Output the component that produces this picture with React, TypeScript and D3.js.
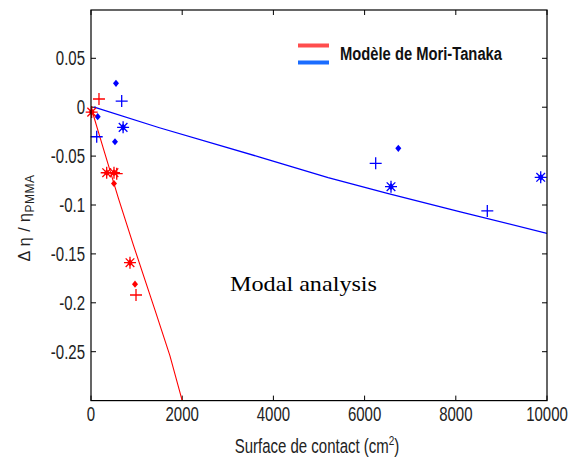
import React from "react"
import * as d3 from "d3"

// axis ticks
const xTicks = [0, 2000, 4000, 6000, 8000, 10000]
const yTicks = [0.05, 0, -0.05, -0.1, -0.15, -0.2, -0.25]
const yTickLabels = ["0.05", "0", "-0.05", "-0.1", "-0.15", "-0.2", "-0.25"]

// Mori-Tanaka model curves
const redModelX = [0, 270, 600, 930, 1400, 1730, 2000]
const redModelY = [0, -0.042, -0.093, -0.141, -0.207, -0.254, -0.3]
const blueModelX = [70, 1500, 3700, 5200, 6500, 8100, 10000]
const blueModelY = [0, -0.021, -0.051, -0.072, -0.088, -0.107, -0.129]

// measured points, blue series
const blueDotX = [548, 147, 526, 6739]
const blueDotY = [0.0244, -0.0097, -0.0353, -0.042]
const bluePlusX = [673, 125, 6243, 8691]
const bluePlusY = [0.0063, -0.0302, -0.0574, -0.1061]
const blueStarX = [704, 6579, 9862]
const blueStarY = [-0.0206, -0.0813, -0.0717]

// measured points, red series
const redDotX = [504, 965]
const redDotY = [-0.078, -0.181]
const redPlusX = [175, 564, 987]
const redPlusY = [0.0084, -0.068, -0.192]
const redStarX = [15, 344, 504, 855]
const redStarY = [-0.005, -0.067, -0.067, -0.159]

const W = 569
const H = 468
const m = { left: 91, right: 547, top: 10, bottom: 400.6 }

const x = d3.scaleLinear().domain([0, 10000]).range([m.left, m.right])
const y = d3.scaleLinear().domain([-0.3, 0.0994]).range([m.bottom, m.top])

const BLUE = "#0000ff"
const RED = "#ff0000"
const tickFont = "'Liberation Sans', Arial, sans-serif"

const zip = (xs: number[], ys: number[]) => xs.map((v, i) => [v, ys[i]] as [number, number])

const line = d3
  .line<[number, number]>()
  .x((d) => x(d[0]))
  .y((d) => y(d[1]))

const Dot = ({ cx, cy, color }: { cx: number; cy: number; color: string }) => (
  <path d={`M${cx},${cy - 3.6}L${cx + 3},${cy}L${cx},${cy + 3.6}L${cx - 3},${cy}Z`} fill={color} />
)

const Plus = ({ cx, cy, color }: { cx: number; cy: number; color: string }) => (
  <path d={`M${cx - 6},${cy}H${cx + 6}M${cx},${cy - 6}V${cy + 6}`} stroke={color} strokeWidth={1.3} fill="none" />
)

const Star = ({ cx, cy, color }: { cx: number; cy: number; color: string }) => {
  const r = 6
  const d = r * 0.72
  return (
    <path
      d={`M${cx - r},${cy}H${cx + r}M${cx},${cy - r}V${cy + r}M${cx - d},${cy - d}L${cx + d},${cy + d}M${cx - d},${cy + d}L${cx + d},${cy - d}`}
      stroke={color}
      strokeWidth={1.3}
      fill="none"
    />
  )
}

// text in the picture is stretched vertically
const Stretched = ({ tx, ty, sy, children, ...rest }: any) => (
  <g transform={`translate(${tx},${ty}) scale(1,${sy})`}>
    <text {...rest}>{children}</text>
  </g>
)

export default function App() {
  return (
    <svg width={W} height={H} style={{ position: "absolute", left: 0, top: 0, background: "#fff" }}>
      <defs>
        <clipPath id="plot">
          <rect x={m.left} y={m.top} width={m.right - m.left} height={m.bottom - m.top} />
        </clipPath>
      </defs>
      <rect width={W} height={H} fill="#fff" />

      {/* ticks, inside, on all four sides */}
      {xTicks.map((t) => (
        <g key={"xt" + t}>
          <line x1={x(t)} x2={x(t)} y1={m.bottom} y2={m.bottom - 5} stroke="#000" />
          <line x1={x(t)} x2={x(t)} y1={m.top} y2={m.top + 5} stroke="#000" />
          <Stretched tx={x(t)} ty={421} sy={1.35} textAnchor="middle" fontFamily={tickFont} fontSize={15} fill="#222">
            {t}
          </Stretched>
        </g>
      ))}
      {yTicks.map((t, i) => (
        <g key={"yt" + t}>
          <line x1={m.left} x2={m.left + 5} y1={y(t)} y2={y(t)} stroke="#000" />
          <line x1={m.right} x2={m.right - 5} y1={y(t)} y2={y(t)} stroke="#000" />
          <Stretched tx={m.left - 6} ty={y(t) + 7} sy={1.35} textAnchor="end" fontFamily={tickFont} fontSize={15} fill="#222">
            {yTickLabels[i]}
          </Stretched>
        </g>
      ))}

      <g clipPath="url(#plot)">
        <path d={line(zip(blueModelX, blueModelY)) || ""} stroke={BLUE} strokeWidth={1.3} fill="none" />
        <path d={line(zip(redModelX, redModelY)) || ""} stroke={RED} strokeWidth={1.1} fill="none" />
      </g>

      {zip(blueDotX, blueDotY).map((p, i) => <Dot key={"bd" + i} cx={x(p[0])} cy={y(p[1])} color={BLUE} />)}
      {zip(bluePlusX, bluePlusY).map((p, i) => <Plus key={"bp" + i} cx={x(p[0])} cy={y(p[1])} color={BLUE} />)}
      {zip(blueStarX, blueStarY).map((p, i) => (
        <g key={"bs" + i}>
          <Star cx={x(p[0])} cy={y(p[1])} color={BLUE} />
          <Dot cx={x(p[0])} cy={y(p[1])} color={BLUE} />
        </g>
      ))}
      {zip(redDotX, redDotY).map((p, i) => <Dot key={"rd" + i} cx={x(p[0])} cy={y(p[1])} color={RED} />)}
      {zip(redPlusX, redPlusY).map((p, i) => <Plus key={"rp" + i} cx={x(p[0])} cy={y(p[1])} color={RED} />)}
      {zip(redStarX, redStarY).map((p, i) => (
        <g key={"rs" + i}>
          <Star cx={x(p[0])} cy={y(p[1])} color={RED} />
          <Dot cx={x(p[0])} cy={y(p[1])} color={RED} />
        </g>
      ))}

      {/* frame */}
      <rect x={m.left} y={m.top} width={m.right - m.left} height={m.bottom - m.top} fill="none" stroke="#000" strokeWidth={1.2} />

      {/* legend */}
      <line x1={298} x2={329} y1={45.5} y2={45.5} stroke="#ff4d4d" strokeWidth={4} />
      <line x1={298} x2={329} y1={62.5} y2={62.5} stroke="#1a6cff" strokeWidth={4} />
      <Stretched tx={340} ty={60} sy={1.3} fontFamily={tickFont} fontWeight="bold" fontSize={13.5} fill="#111" textLength={162} lengthAdjust="spacingAndGlyphs">
        Modèle de Mori-Tanaka
      </Stretched>

      <text x={230} y={291} fontFamily="'Liberation Serif', 'Times New Roman', serif" fontSize={22} fill="#000" textLength={147} lengthAdjust="spacingAndGlyphs">
        Modal analysis
      </text>

      {/* axis titles */}
      <Stretched tx={317} ty={453} sy={1.35} textAnchor="middle" fontFamily={tickFont} fontSize={15} fill="#222">
        Surface de contact (cm<tspan dy={-6} fontSize={10}>2</tspan>
        <tspan dy={6}>)</tspan>
      </Stretched>
      <g transform="translate(30,218) rotate(-90)">
        <text textAnchor="middle" fontFamily={tickFont} fontSize={16} fill="#222" letterSpacing={0.5}>
          Δ η / η<tspan dy={4} fontSize={12}>PMMA</tspan>
        </text>
      </g>
    </svg>
  )
}
